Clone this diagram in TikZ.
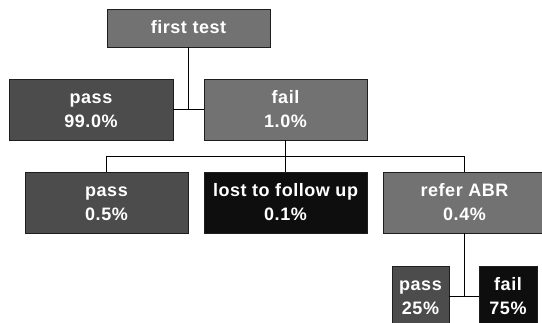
\documentclass[tikz,border=0pt]{standalone}
\usepackage{fontspec}
\setmainfont{Liberation Sans}[LetterSpace=3]
\definecolor{midgray}{HTML}{727272}
\definecolor{darkgray}{HTML}{4C4C4C}
\definecolor{nearblack}{HTML}{0E0E0E}
\definecolor{boxline}{HTML}{1E1E1E}
\tikzset{
  box/.style={draw=boxline, line width=0.9pt, inner sep=0pt, minimum height=61pt, minimum width=163pt},
  short/.style={minimum height=38pt},
  gbox/.style={box, fill=midgray},
  dbox/.style={box, fill=darkgray},
  bbox/.style={box, fill=nearblack},
  lbl/.style={anchor=base, inner sep=0pt, text=white, font=\fontsize{18}{20}\selectfont\bfseries},
  conn/.style={draw=black, line width=0.9pt}
}
\begin{document}
\begin{tikzpicture}[x=1pt,y=-1pt]
\clip (0,0) rectangle (542,323);
\fill[white] (0,0) rectangle (542,323);
% boxes
\node[gbox, short] (ft) at (188.5,28) {};
\node[dbox, minimum width=164pt] (p1) at (91,109.5) {};
\node[gbox] (f1) at (285.5,109.5) {};
\node[dbox] (p2) at (106.5,202.5) {};
\node[bbox] (l2) at (285.5,202.5) {};
\node[gbox] (r2) at (464.5,202.5) {};
\node[dbox, minimum width=57pt] (p3) at (420.5,296.5) {};
\node[bbox, minimum width=58pt] (f3) at (508,296.5) {};
% labels
\node[lbl] (ftt) at ([yshift=-25pt]ft.north) {first test};
\node[lbl] (p1a) at ([yshift=-25pt]p1.north) {pass};
\node[lbl] (p1b) at ([yshift=-49pt]p1.north) {99.0\%};
\node[lbl] (f1a) at ([yshift=-25pt]f1.north) {fail};
\node[lbl] (f1b) at ([yshift=-49pt]f1.north) {1.0\%};
\node[lbl] (p2a) at ([yshift=-25pt]p2.north) {pass};
\node[lbl] (p2b) at ([yshift=-49pt]p2.north) {0.5\%};
\node[lbl] (l2a) at ([yshift=-25pt]l2.north) {lost to follow up};
\node[lbl] (l2b) at ([yshift=-49pt]l2.north) {0.1\%};
\node[lbl] (r2a) at ([yshift=-25pt]r2.north) {refer ABR};
\node[lbl] (r2b) at ([yshift=-49pt]r2.north) {0.4\%};
\node[lbl] (p3a) at ([yshift=-25pt]p3.north) {pass};
\node[lbl] (p3b) at ([yshift=-49pt]p3.north) {25\%};
\node[lbl] (f3a) at ([yshift=-25pt]f3.north) {fail};
\node[lbl] (f3b) at ([yshift=-49pt]f3.north) {75\%};
% connectors
\coordinate (bus) at ([yshift=-16pt]f1.south);
\draw[conn] (ft.south) -- (ft.south |- p1.east);
\draw[conn] (p1.east) -- (f1.west);
\draw[conn] (f1.south) -- (l2.north);
\draw[conn] (p2.north) |- (bus) -| (r2.north);
\draw[conn] (r2.south) -- (r2.south |- p3.east);
\draw[conn] (p3.east) -- (f3.west);
\end{tikzpicture}
\end{document}
